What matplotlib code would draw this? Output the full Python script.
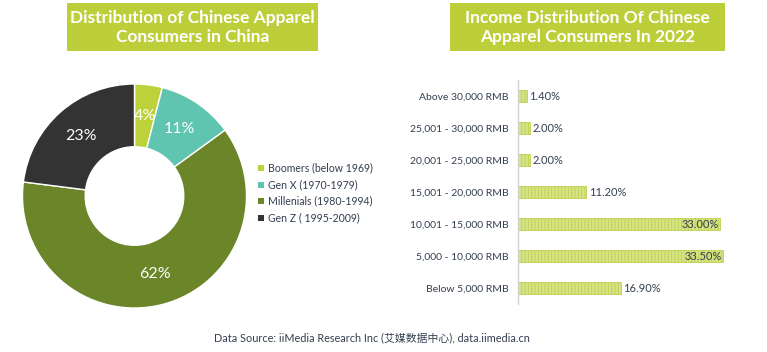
import matplotlib
matplotlib.use("Agg")
import matplotlib.pyplot as plt
from matplotlib.patches import Rectangle
import numpy as np

plt.rcParams['font.family'] = ['Lato', 'Noto Sans CJK SC', 'DejaVu Sans']
plt.rcParams['hatch.linewidth'] = 0.6

# ---- data ----
gen_labels = ["Boomers (below 1969)", "Gen X (1970-1979)", "Millenials (1980-1994)", "Gen Z ( 1995-2009)"]
gen_values = [4, 11, 62, 23]
gen_colors = ["#BDD13B", "#5FC4B0", "#6B8529", "#333333"]

income_labels = ["Below 5,000 RMB", "5,000 - 10,000 RMB", "10,001 - 15,000 RMB",
                 "15,001 - 20,000 RMB", "20,001 - 25,000 RMB", "25,001 - 30,000 RMB",
                 "Above 30,000 RMB"]
income_values = [16.9, 33.5, 33.0, 11.2, 2.0, 2.0, 1.4]

title_left = "Distribution of Chinese Apparel\nConsumers in China"
title_right = "Income Distribution Of Chinese\nApparel Consumers In 2022"
source = "Data Source: iiMedia Research Inc (艾媒数据中心), data.iimedia.cn"

W, H = 767, 352
fig = plt.figure(figsize=(W / 100, H / 100), dpi=100)

title_green = "#BCCF3A"
text_dark = "#333F50"

def px_axes(x0, y0, x1, y1):
    return fig.add_axes([x0 / W, 1 - y1 / H, (x1 - x0) / W, (y1 - y0) / H])

# title boxes
for (x0, x1, t) in [(67, 318, title_left), (450, 725, title_right)]:
    fig.patches.append(Rectangle((x0 / W, 1 - 51 / H), (x1 - x0) / W, 48 / H,
                                 transform=fig.transFigure, facecolor=title_green,
                                 edgecolor="none"))
    fig.text((x0 + x1) / 2 / W, 1 - 27.5 / H, t, ha="center", va="center",
             color="white", fontsize=12.5, fontweight="bold", linespacing=1.2)

# donut
axp = px_axes(22.5, 84, 246.5, 308)
wedges, _ = axp.pie(gen_values, colors=gen_colors, startangle=90, counterclock=False,
                    radius=1, wedgeprops=dict(width=0.56, edgecolor="white", linewidth=1))
for v, w in zip(gen_values, wedges):
    mid = np.deg2rad((w.theta1 + w.theta2) / 2)
    r = 0.72
    axp.text(r * np.cos(mid), r * np.sin(mid), f"{v}%", ha="center", va="center",
             color="white", fontsize=11.5)
axp.set_xlim(-1, 1)
axp.set_ylim(-1, 1)
axp.set_aspect("equal")
axp.axis("off")

# legend
leg_y = [168, 184.5, 201, 217.5]
for lab, col, y in zip(gen_labels, gen_colors, leg_y):
    fig.patches.append(Rectangle((257.5 / W, 1 - (y + 3) / H), 6 / W, 6 / H,
                                 transform=fig.transFigure, facecolor=col, edgecolor="none"))
    fig.text(268 / W, 1 - y / H, lab, ha="left", va="center", fontsize=7.6, color=text_dark)

# bar chart
axb = px_axes(518, 80, 740, 304)
ypos = np.arange(len(income_values))
axb.barh(ypos, income_values, height=0.38, color="#D6E384", edgecolor="#BFD04E",
         hatch="|||||", linewidth=0.6)
axb.set_xlim(0, 36.3)
axb.set_ylim(-0.5, len(income_values) - 0.5)
axb.set_yticks(ypos)
axb.set_yticklabels(income_labels, fontsize=7.5, color=text_dark)
axb.tick_params(axis="y", length=0, pad=7)
axb.set_xticks([])
for s in ["top", "right", "bottom"]:
    axb.spines[s].set_visible(False)
axb.spines["left"].set_color("#D0D5DA")
axb.spines["left"].set_linewidth(1)
for y, v in zip(ypos, income_values):
    if v > 30:
        axb.text(v - 0.1, y, f"{v:.2f}%", ha="right", va="center", fontsize=8, color=text_dark)
    else:
        axb.text(v + 0.35, y, f"{v:.2f}%", ha="left", va="center", fontsize=8, color=text_dark)

fig.text(372 / W, 1 - 338 / H, source, ha="center", va="center", fontsize=7.8, color=text_dark)

fig.savefig("out.png", dpi=100)
